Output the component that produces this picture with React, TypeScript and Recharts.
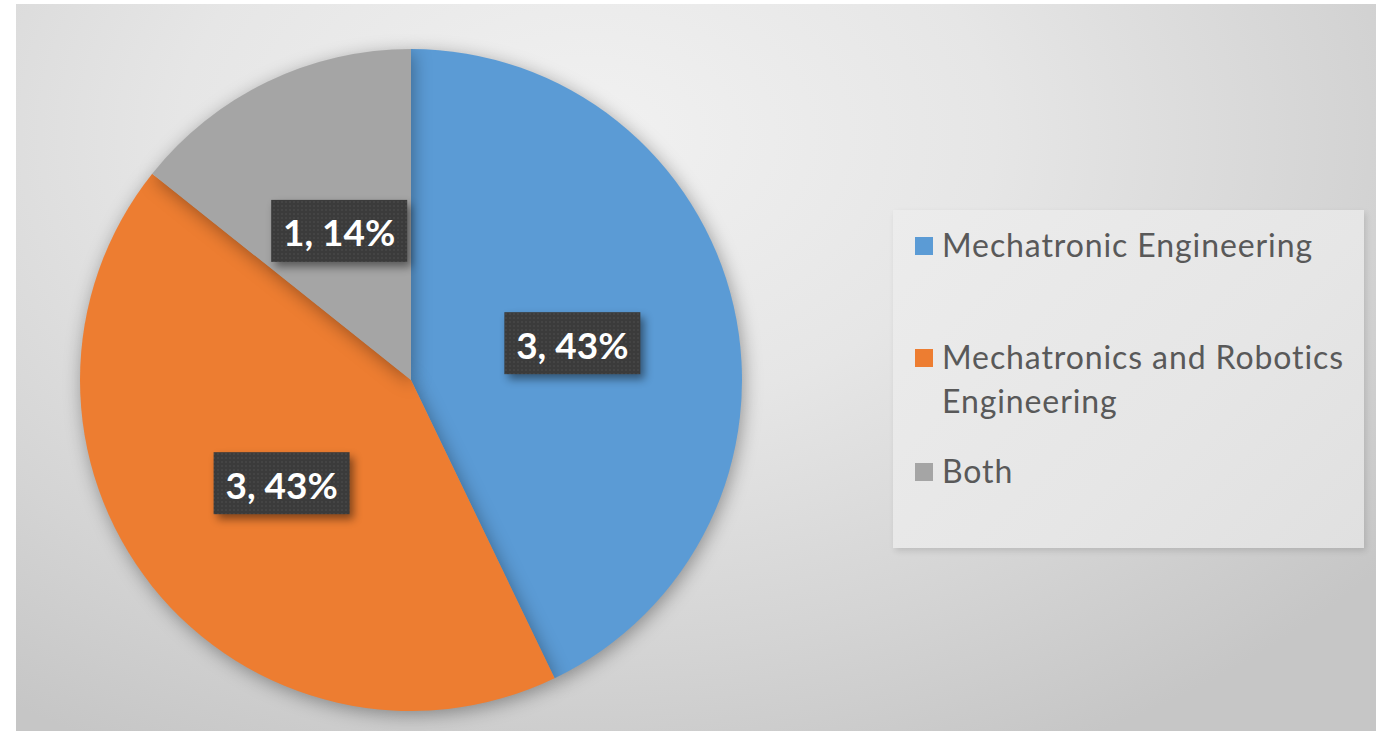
import React from 'react';
import { PieChart, Pie, Cell, Legend } from 'recharts';

const categories = ['Mechatronic Engineering', 'Mechatronics and Robotics Engineering', 'Both'];
const counts = [3, 3, 1];
const sliceColors = ['#5B9BD5', '#ED7D31', '#A5A5A5'];

const data = categories.map((name, i) => ({ name, value: counts[i] }));

const RAD = Math.PI / 180;

const renderLabel = (props: any) => {
  const { cx, cy, midAngle, outerRadius, value, percent, index } = props;
  const r = outerRadius * 0.5;
  const x = cx + r * Math.cos(-midAngle * RAD);
  const y = cy + r * Math.sin(-midAngle * RAD);
  const w = 136;
  const h = 62;
  const pid = `dots-${index}`;
  return (
    <g>
      <defs>
        <pattern id={pid} width="4" height="4" patternUnits="userSpaceOnUse">
          <rect width="4" height="4" fill="#3b3b3b" />
          <circle cx="2" cy="2" r="0.8" fill="#4e4e4e" />
        </pattern>
      </defs>
      <rect
        x={x - w / 2}
        y={y - h / 2}
        width={w}
        height={h}
        fill={`url(#${pid})`}
        style={{ filter: 'drop-shadow(4px 5px 4px rgba(0,0,0,0.45))' }}
      />
      <text
        x={x}
        y={y + 1}
        fill="#ffffff"
        textAnchor="middle"
        dominantBaseline="central"
        style={{ fontFamily: 'Lato, "Open Sans", sans-serif', fontWeight: 700, fontSize: 37 }}
      >
        {`${value}, ${Math.round(percent * 100)}%`}
      </text>
    </g>
  );
};

const renderLegend = () => (
  <div
    style={{
      width: 471,
      height: 338,
      boxSizing: 'border-box',
      background: 'linear-gradient(135deg, #ececec 0%, #e6e6e6 60%, #e0e0e0 100%)',
      boxShadow: '2px 3px 6px rgba(0,0,0,0.12)',
      padding: '13px 6px 0 22px',
      fontFamily: 'Lato, "Open Sans", sans-serif',
      fontSize: 32,
      letterSpacing: 0.9,
      color: '#595959',
      lineHeight: '44px',
    }}
  >
    {categories.map((name, i) => (
      <div
        key={name}
        style={{ display: 'flex', alignItems: 'flex-start', marginBottom: i === 0 ? 68 : 26 }}
      >
        <div
          style={{
            width: 18,
            height: 18,
            background: sliceColors[i],
            marginTop: 14,
            marginRight: 9,
            flex: '0 0 auto',
          }}
        />
        <div style={{ width: 418 }}>{name}</div>
      </div>
    ))}
  </div>
);

export default function App() {
  return (
    <div
      style={{
        position: 'absolute',
        left: 0,
        top: 0,
        width: 1386,
        height: 731,
        background: '#ffffff',
      }}
    >
      <style>{`.pie-shadow .recharts-pie-sector { filter: drop-shadow(2px 4px 9px rgba(0,0,0,0.35)); }`}</style>
      <div
        className="pie-shadow"
        style={{
          position: 'absolute',
          left: 16,
          top: 4,
          width: 1360,
          height: 727,
          background:
            'radial-gradient(ellipse 75% 95% at 42% 18%, #f1f1f1 0%, #e6e6e6 40%, #d4d4d4 75%, #c6c6c6 100%)',
        }}
      >
        <PieChart width={1360} height={727} margin={{ top: 0, right: 0, bottom: 0, left: 0 }}>
          <Pie
            data={data}
            dataKey="value"
            nameKey="name"
            cx={395}
            cy={376}
            outerRadius={331}
            startAngle={90}
            endAngle={-270}
            stroke="none"
            labelLine={false}
            label={renderLabel}
            isAnimationActive={false}
          >
            {data.map((d, i) => (
              <Cell key={d.name} fill={sliceColors[i]} />
            ))}
          </Pie>
          <Legend
            layout="vertical"
            align="right"
            verticalAlign="top"
            content={renderLegend}
            wrapperStyle={{ left: 877, top: 206, width: 471, height: 338 }}
          />
        </PieChart>
      </div>
    </div>
  );
}
